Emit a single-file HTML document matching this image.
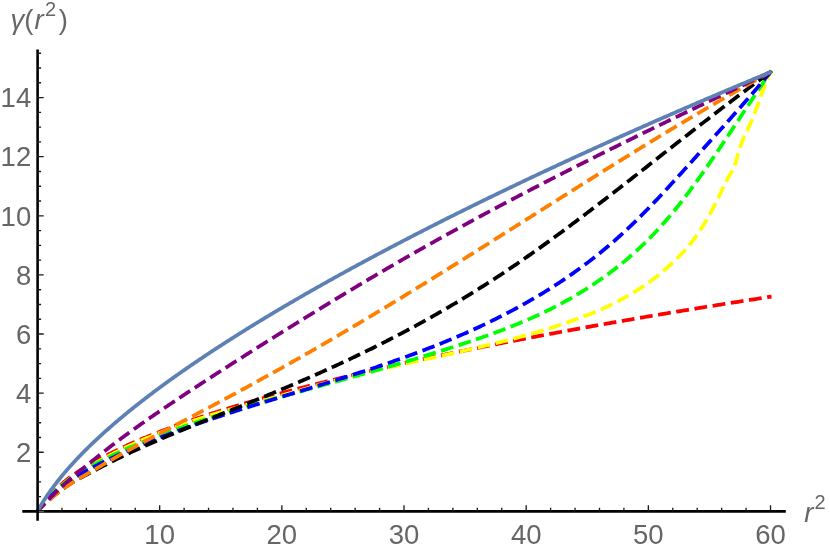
<!DOCTYPE html>
<html><head><meta charset="utf-8"><title>plot</title>
<style>html,body{margin:0;padding:0;background:#fff}svg{display:block}text{font-family:"Liberation Sans",sans-serif;fill:#666}</style></head><body>
<svg width="830" height="552" viewBox="0 0 830 552">
<rect width="830" height="552" fill="#fff"/>
<g fill="none" stroke-width="3.75" stroke-linejoin="round">
<path d="M37.50 511.34 L38.46 509.94 L39.42 508.58 L40.38 507.26 L41.34 505.97 L42.31 504.71 L43.27 503.49 L44.24 502.28 L45.21 501.11 L46.19 499.95 L47.16 498.82 L48.14 497.71 L49.12 496.62 L50.10 495.55 L51.09 494.49 L52.07 493.45 L53.06 492.42 L54.05 491.41 L55.04 490.41 L56.04 489.43 L57.03 488.46 L58.03 487.50 L59.03 486.55 L60.04 485.62 L61.04 484.70 L62.05 483.80 L63.06 482.91 L64.07 482.03 L65.08 481.17 L66.09 480.32 L67.11 479.49 L68.13 478.68 L69.15 477.88 L70.18 477.10 L71.20 476.34 L72.23 475.59 L73.26 474.86 L74.29 474.14 L75.32 473.44 L76.36 472.75 L77.40 472.07 L78.43 471.40 L79.48 470.75 L80.52 470.10 L81.57 469.46 L82.61 468.83 L83.66 468.20 L84.72 467.58 L85.77 466.96 L86.83 466.34 L87.88 465.73 L88.95 465.12 L90.01 464.51 L91.07 463.91 L92.14 463.30 L93.21 462.70 L94.28 462.10 L95.35 461.50 L96.43 460.90 L97.50 460.30 L98.58 459.71 L99.66 459.12 L100.74 458.53 L101.83 457.95 L102.92 457.36 L104.01 456.78 L105.10 456.21 L106.19 455.63 L107.29 455.06 L108.38 454.50 L109.48 453.93 L110.58 453.37 L111.69 452.81 L112.79 452.26 L113.90 451.71 L115.01 451.16 L116.12 450.61 L117.24 450.07 L118.35 449.53 L119.47 449.00 L120.59 448.46 L121.71 447.93 L122.84 447.40 L123.96 446.88 L125.09 446.36 L126.22 445.84 L127.36 445.32 L128.49 444.81 L129.63 444.29 L130.77 443.78 L131.91 443.28 L133.05 442.77 L134.19 442.27 L135.34 441.77 L136.49 441.27 L137.64 440.77 L138.79 440.28 L139.95 439.79 L141.11 439.30 L142.27 438.81 L143.43 438.32 L144.59 437.84 L145.76 437.36 L146.92 436.88 L148.09 436.40 L149.27 435.92 L150.44 435.45 L151.62 434.98 L152.79 434.51 L153.97 434.04 L155.16 433.57 L156.34 433.10 L157.53 432.64 L158.71 432.18 L159.90 431.72 L161.10 431.26 L162.29 430.80 L163.49 430.34 L164.69 429.89 L165.89 429.44 L167.09 428.98 L168.29 428.53 L169.50 428.09 L170.71 427.64 L171.92 427.19 L173.13 426.75 L174.35 426.30 L175.57 425.86 L176.79 425.42 L178.01 424.98 L179.23 424.54 L180.46 424.11 L181.68 423.67 L182.91 423.24 L184.14 422.81 L185.38 422.37 L186.61 421.94 L187.85 421.51 L189.09 421.08 L190.33 420.66 L191.58 420.23 L192.82 419.81 L194.07 419.38 L195.32 418.96 L196.57 418.54 L197.83 418.12 L199.08 417.70 L200.34 417.28 L201.60 416.86 L202.87 416.44 L204.13 416.03 L205.40 415.61 L206.67 415.20 L207.94 414.79 L209.21 414.37 L210.48 413.96 L211.76 413.55 L213.04 413.14 L214.32 412.73 L215.60 412.33 L216.89 411.92 L218.18 411.51 L219.47 411.11 L220.76 410.71 L222.05 410.30 L223.35 409.90 L224.64 409.50 L225.94 409.10 L227.25 408.70 L228.55 408.30 L229.86 407.90 L231.16 407.50 L232.47 407.10 L233.79 406.71 L235.10 406.31 L236.42 405.92 L237.73 405.52 L239.05 405.13 L240.38 404.74 L241.70 404.35 L243.03 403.96 L244.36 403.56 L245.69 403.17 L247.02 402.79 L248.35 402.40 L249.69 402.01 L251.03 401.62 L252.37 401.24 L253.71 400.85 L255.06 400.46 L256.41 400.08 L257.75 399.70 L259.11 399.31 L260.46 398.93 L261.81 398.55 L263.17 398.17 L264.53 397.78 L265.89 397.40 L267.26 397.02 L268.62 396.64 L269.99 396.27 L271.36 395.89 L272.73 395.51 L274.11 395.13 L275.48 394.76 L276.86 394.38 L278.24 394.00 L279.62 393.63 L281.01 393.25 L282.39 392.88 L283.78 392.51 L285.17 392.13 L286.56 391.76 L287.96 391.39 L289.36 391.02 L290.75 390.65 L292.16 390.28 L293.56 389.91 L294.96 389.54 L296.37 389.17 L297.78 388.80 L299.19 388.43 L300.60 388.06 L302.02 387.70 L303.44 387.33 L304.86 386.96 L306.28 386.60 L307.70 386.23 L309.13 385.87 L310.55 385.50 L311.98 385.14 L313.41 384.77 L314.85 384.41 L316.28 384.05 L317.72 383.69 L319.16 383.32 L320.60 382.96 L322.05 382.60 L323.49 382.24 L324.94 381.88 L326.39 381.52 L327.85 381.16 L329.30 380.80 L330.76 380.44 L332.21 380.08 L333.68 379.72 L335.14 379.37 L336.60 379.01 L338.07 378.65 L339.54 378.30 L341.01 377.94 L342.48 377.58 L343.96 377.23 L345.43 376.87 L346.91 376.52 L348.40 376.16 L349.88 375.81 L351.36 375.45 L352.85 375.10 L354.34 374.75 L355.83 374.39 L357.33 374.04 L358.82 373.69 L360.32 373.34 L361.82 372.99 L363.32 372.64 L364.83 372.28 L366.33 371.93 L367.84 371.58 L369.35 371.23 L370.86 370.88 L372.38 370.53 L373.89 370.19 L375.41 369.84 L376.93 369.49 L378.45 369.14 L379.98 368.79 L381.50 368.44 L383.03 368.10 L384.56 367.75 L386.10 367.40 L387.63 367.06 L389.17 366.71 L390.71 366.37 L392.25 366.02 L393.79 365.67 L395.34 365.33 L396.88 364.98 L398.43 364.64 L399.99 364.30 L401.54 363.95 L403.09 363.61 L404.65 363.26 L406.21 362.92 L407.77 362.58 L409.34 362.24 L410.90 361.89 L412.47 361.55 L414.04 361.21 L415.61 360.87 L417.19 360.53 L418.76 360.19 L420.34 359.85 L421.92 359.51 L423.50 359.16 L425.09 358.82 L426.68 358.49 L428.26 358.15 L429.85 357.81 L431.45 357.47 L433.04 357.13 L434.64 356.79 L436.24 356.45 L437.84 356.11 L439.44 355.78 L441.05 355.44 L442.65 355.10 L444.26 354.76 L445.87 354.43 L447.49 354.09 L449.10 353.75 L450.72 353.42 L452.34 353.08 L453.96 352.75 L455.58 352.41 L457.21 352.07 L458.84 351.74 L460.47 351.40 L462.10 351.07 L463.73 350.74 L465.37 350.40 L467.01 350.07 L468.65 349.73 L470.29 349.40 L471.93 349.07 L473.58 348.73 L475.23 348.40 L476.88 348.07 L478.53 347.74 L480.19 347.40 L481.84 347.07 L483.50 346.74 L485.16 346.41 L486.83 346.08 L488.49 345.75 L490.16 345.41 L491.83 345.08 L493.50 344.75 L495.17 344.42 L496.85 344.09 L498.52 343.76 L500.20 343.43 L501.88 343.10 L503.57 342.77 L505.25 342.44 L506.94 342.11 L508.63 341.79 L510.32 341.46 L512.02 341.13 L513.71 340.80 L515.41 340.47 L517.11 340.14 L518.81 339.82 L520.52 339.49 L522.22 339.16 L523.93 338.84 L525.64 338.51 L527.35 338.18 L529.07 337.85 L530.78 337.53 L532.50 337.20 L534.22 336.88 L535.95 336.55 L537.67 336.23 L539.40 335.90 L541.13 335.57 L542.86 335.25 L544.59 334.92 L546.33 334.60 L548.06 334.28 L549.80 333.95 L551.54 333.63 L553.29 333.30 L555.03 332.98 L556.78 332.66 L558.53 332.33 L560.28 332.01 L562.03 331.69 L563.79 331.36 L565.55 331.04 L567.31 330.72 L569.07 330.40 L570.83 330.07 L572.60 329.75 L574.37 329.43 L576.14 329.11 L577.91 328.79 L579.68 328.47 L581.46 328.14 L583.24 327.82 L585.02 327.50 L586.80 327.18 L588.59 326.86 L590.37 326.54 L592.16 326.22 L593.95 325.90 L595.74 325.58 L597.54 325.26 L599.34 324.94 L601.14 324.62 L602.94 324.31 L604.74 323.99 L606.54 323.67 L608.35 323.35 L610.16 323.03 L611.97 322.71 L613.79 322.40 L615.60 322.08 L617.42 321.76 L619.24 321.44 L621.06 321.13 L622.88 320.81 L624.71 320.49 L626.54 320.17 L628.37 319.86 L630.20 319.54 L632.03 319.23 L633.87 318.91 L635.71 318.59 L637.55 318.28 L639.39 317.96 L641.24 317.65 L643.08 317.33 L644.93 317.02 L646.78 316.70 L648.63 316.39 L650.49 316.07 L652.35 315.76 L654.20 315.44 L656.07 315.13 L657.93 314.82 L659.79 314.50 L661.66 314.19 L663.53 313.88 L665.40 313.56 L667.27 313.25 L669.15 312.94 L671.03 312.62 L672.91 312.31 L674.79 312.00 L676.67 311.69 L678.56 311.37 L680.45 311.06 L682.34 310.75 L684.23 310.44 L686.12 310.13 L688.02 309.82 L689.92 309.51 L691.82 309.19 L693.72 308.88 L695.62 308.57 L697.53 308.26 L699.44 307.95 L701.35 307.64 L703.26 307.33 L705.17 307.02 L707.09 306.71 L709.01 306.40 L710.93 306.10 L712.85 305.79 L714.78 305.48 L716.70 305.17 L718.63 304.86 L720.56 304.55 L722.50 304.24 L724.43 303.94 L726.37 303.63 L728.31 303.32 L730.25 303.01 L732.19 302.71 L734.14 302.40 L736.09 302.09 L738.04 301.79 L739.99 301.48 L741.94 301.17 L743.90 300.87 L745.86 300.56 L747.82 300.25 L749.78 299.95 L751.74 299.64 L753.71 299.34 L755.68 299.03 L757.65 298.73 L759.62 298.42 L761.59 298.12 L763.57 297.81 L765.55 297.51 L767.53 297.20 L769.51 296.90 L771.50 296.60" stroke="#ff0000" stroke-dasharray="12.83 5.58" stroke-dashoffset="2.00"/>
<path d="M37.50 511.34 L38.46 510.01 L39.42 508.72 L40.38 507.47 L41.34 506.25 L42.31 505.05 L43.27 503.89 L44.24 502.75 L45.21 501.63 L46.19 500.53 L47.16 499.46 L48.14 498.40 L49.12 497.36 L50.10 496.34 L51.09 495.33 L52.07 494.34 L53.06 493.36 L54.05 492.40 L55.04 491.44 L56.04 490.50 L57.03 489.57 L58.03 488.65 L59.03 487.74 L60.04 486.84 L61.04 485.96 L62.05 485.09 L63.06 484.23 L64.07 483.38 L65.08 482.55 L66.09 481.73 L67.11 480.93 L68.13 480.14 L69.15 479.37 L70.18 478.61 L71.20 477.87 L72.23 477.14 L73.26 476.43 L74.29 475.73 L75.32 475.04 L76.36 474.36 L77.40 473.70 L78.43 473.05 L79.48 472.40 L80.52 471.77 L81.57 471.14 L82.61 470.51 L83.66 469.89 L84.72 469.28 L85.77 468.66 L86.83 468.05 L87.88 467.45 L88.95 466.84 L90.01 466.23 L91.07 465.63 L92.14 465.02 L93.21 464.42 L94.28 463.81 L95.35 463.21 L96.43 462.61 L97.50 462.01 L98.58 461.41 L99.66 460.82 L100.74 460.22 L101.83 459.63 L102.92 459.04 L104.01 458.45 L105.10 457.87 L106.19 457.28 L107.29 456.70 L108.38 456.13 L109.48 455.55 L110.58 454.98 L111.69 454.41 L112.79 453.84 L113.90 453.28 L115.01 452.72 L116.12 452.16 L117.24 451.61 L118.35 451.06 L119.47 450.51 L120.59 449.96 L121.71 449.42 L122.84 448.88 L123.96 448.34 L125.09 447.80 L126.22 447.27 L127.36 446.74 L128.49 446.21 L129.63 445.69 L130.77 445.16 L131.91 444.64 L133.05 444.13 L134.19 443.61 L135.34 443.10 L136.49 442.59 L137.64 442.08 L138.79 441.58 L139.95 441.07 L141.11 440.57 L142.27 440.07 L143.43 439.58 L144.59 439.08 L145.76 438.59 L146.92 438.10 L148.09 437.62 L149.27 437.13 L150.44 436.65 L151.62 436.17 L152.79 435.69 L153.97 435.21 L155.16 434.74 L156.34 434.26 L157.53 433.79 L158.71 433.32 L159.90 432.86 L161.10 432.39 L162.29 431.93 L163.49 431.47 L164.69 431.01 L165.89 430.55 L167.09 430.10 L168.29 429.64 L169.50 429.19 L170.71 428.74 L171.92 428.30 L173.13 427.85 L174.35 427.41 L175.57 426.96 L176.79 426.52 L178.01 426.08 L179.23 425.65 L180.46 425.21 L181.68 424.78 L182.91 424.35 L184.14 423.92 L185.38 423.49 L186.61 423.06 L187.85 422.64 L189.09 422.22 L190.33 421.80 L191.58 421.38 L192.82 420.96 L194.07 420.54 L195.32 420.13 L196.57 419.72 L197.83 419.31 L199.08 418.90 L200.34 418.49 L201.60 418.09 L202.87 417.68 L204.13 417.28 L205.40 416.88 L206.67 416.48 L207.94 416.09 L209.21 415.69 L210.48 415.30 L211.76 414.91 L213.04 414.52 L214.32 414.13 L215.60 413.74 L216.89 413.36 L218.18 412.98 L219.47 412.60 L220.76 412.22 L222.05 411.84 L223.35 411.46 L224.64 411.09 L225.94 410.71 L227.25 410.34 L228.55 409.97 L229.86 409.60 L231.16 409.23 L232.47 408.87 L233.79 408.50 L235.10 408.14 L236.42 407.77 L237.73 407.41 L239.05 407.05 L240.38 406.68 L241.70 406.32 L243.03 405.96 L244.36 405.60 L245.69 405.24 L247.02 404.88 L248.35 404.52 L249.69 404.16 L251.03 403.80 L252.37 403.44 L253.71 403.08 L255.06 402.72 L256.41 402.36 L257.75 402.00 L259.11 401.64 L260.46 401.27 L261.81 400.91 L263.17 400.55 L264.53 400.18 L265.89 399.82 L267.26 399.45 L268.62 399.09 L269.99 398.72 L271.36 398.35 L272.73 397.98 L274.11 397.61 L275.48 397.23 L276.86 396.86 L278.24 396.48 L279.62 396.10 L281.01 395.72 L282.39 395.34 L283.78 394.96 L285.17 394.57 L286.56 394.18 L287.96 393.79 L289.36 393.40 L290.75 393.01 L292.16 392.61 L293.56 392.21 L294.96 391.81 L296.37 391.41 L297.78 391.00 L299.19 390.60 L300.60 390.19 L302.02 389.78 L303.44 389.38 L304.86 388.97 L306.28 388.56 L307.70 388.15 L309.13 387.74 L310.55 387.33 L311.98 386.92 L313.41 386.51 L314.85 386.10 L316.28 385.69 L317.72 385.29 L319.16 384.88 L320.60 384.48 L322.05 384.07 L323.49 383.67 L324.94 383.27 L326.39 382.87 L327.85 382.48 L329.30 382.08 L330.76 381.69 L332.21 381.30 L333.68 380.91 L335.14 380.52 L336.60 380.13 L338.07 379.75 L339.54 379.36 L341.01 378.98 L342.48 378.60 L343.96 378.22 L345.43 377.84 L346.91 377.47 L348.40 377.09 L349.88 376.72 L351.36 376.34 L352.85 375.97 L354.34 375.60 L355.83 375.23 L357.33 374.87 L358.82 374.50 L360.32 374.13 L361.82 373.77 L363.32 373.41 L364.83 373.05 L366.33 372.68 L367.84 372.32 L369.35 371.96 L370.86 371.61 L372.38 371.25 L373.89 370.89 L375.41 370.54 L376.93 370.18 L378.45 369.83 L379.98 369.47 L381.50 369.12 L383.03 368.77 L384.56 368.41 L386.10 368.06 L387.63 367.71 L389.17 367.36 L390.71 367.01 L392.25 366.66 L393.79 366.31 L395.34 365.96 L396.88 365.62 L398.43 365.27 L399.99 364.92 L401.54 364.57 L403.09 364.23 L404.65 363.88 L406.21 363.53 L407.77 363.18 L409.34 362.84 L410.90 362.49 L412.47 362.14 L414.04 361.80 L415.61 361.45 L417.19 361.10 L418.76 360.75 L420.34 360.40 L421.92 360.06 L423.50 359.71 L425.09 359.36 L426.68 359.01 L428.26 358.66 L429.85 358.31 L431.45 357.96 L433.04 357.61 L434.64 357.25 L436.24 356.90 L437.84 356.55 L439.44 356.19 L441.05 355.84 L442.65 355.48 L444.26 355.13 L445.87 354.77 L447.49 354.41 L449.10 354.05 L450.72 353.69 L452.34 353.33 L453.96 352.97 L455.58 352.60 L457.21 352.24 L458.84 351.87 L460.47 351.50 L462.10 351.13 L463.73 350.76 L465.37 350.39 L467.01 350.02 L468.65 349.64 L470.29 349.27 L471.93 348.89 L473.58 348.51 L475.23 348.12 L476.88 347.74 L478.53 347.35 L480.19 346.96 L481.84 346.57 L483.50 346.18 L485.16 345.79 L486.83 345.39 L488.49 344.99 L490.16 344.59 L491.83 344.18 L493.50 343.77 L495.17 343.36 L496.85 342.95 L498.52 342.53 L500.20 342.11 L501.88 341.69 L503.57 341.26 L505.25 340.84 L506.94 340.40 L508.63 339.97 L510.32 339.53 L512.02 339.08 L513.71 338.64 L515.41 338.19 L517.11 337.73 L518.81 337.28 L520.52 336.81 L522.22 336.35 L523.93 335.88 L525.64 335.40 L527.35 334.92 L529.07 334.44 L530.78 333.95 L532.50 333.46 L534.22 332.96 L535.95 332.46 L537.67 331.95 L539.40 331.44 L541.13 330.92 L542.86 330.40 L544.59 329.87 L546.33 329.34 L548.06 328.80 L549.80 328.26 L551.54 327.71 L553.29 327.15 L555.03 326.59 L556.78 326.02 L558.53 325.45 L560.28 324.87 L562.03 324.29 L563.79 323.69 L565.55 323.10 L567.31 322.49 L569.07 321.88 L570.83 321.26 L572.60 320.64 L574.37 320.00 L576.14 319.36 L577.91 318.72 L579.68 318.06 L581.46 317.40 L583.24 316.73 L585.02 316.05 L586.80 315.35 L588.59 314.65 L590.37 313.94 L592.16 313.22 L593.95 312.48 L595.74 311.73 L597.54 310.97 L599.34 310.20 L601.14 309.41 L602.94 308.61 L604.74 307.79 L606.54 306.96 L608.35 306.12 L610.16 305.26 L611.97 304.38 L613.79 303.48 L615.60 302.57 L617.42 301.63 L619.24 300.68 L621.06 299.71 L622.88 298.73 L624.71 297.72 L626.54 296.69 L628.37 295.63 L630.20 294.56 L632.03 293.47 L633.87 292.35 L635.71 291.21 L637.55 290.04 L639.39 288.85 L641.24 287.64 L643.08 286.40 L644.93 285.13 L646.78 283.84 L648.63 282.51 L650.49 281.16 L652.35 279.79 L654.20 278.38 L656.07 276.94 L657.93 275.47 L659.79 273.97 L661.66 272.43 L663.53 270.86 L665.40 269.26 L667.27 267.63 L669.15 265.95 L671.03 264.24 L672.91 262.48 L674.79 260.69 L676.67 258.84 L678.56 256.94 L680.45 255.00 L682.34 253.00 L684.23 250.94 L686.12 248.81 L688.02 246.61 L689.92 244.33 L691.82 241.97 L693.72 239.51 L695.62 236.95 L697.53 234.28 L699.44 231.49 L701.35 228.58 L703.26 225.54 L705.17 222.37 L707.09 219.05 L709.01 215.62 L710.93 212.08 L712.85 208.43 L714.78 204.69 L716.70 200.87 L718.63 196.98 L720.56 193.03 L722.50 189.04 L724.43 185.05 L726.37 181.17 L728.31 177.50 L730.25 174.15 L732.19 170.99 L734.14 166.98 L736.09 160.97 L738.04 153.70 L739.99 147.29 L741.94 141.91 L743.90 137.28 L745.86 133.10 L747.82 129.08 L749.78 124.93 L751.74 120.40 L753.71 115.53 L755.68 110.39 L757.65 105.08 L759.62 99.67 L761.59 94.26 L763.57 88.92 L765.55 83.75 L767.53 78.83 L769.51 74.25 L771.50 70.10" stroke="#ffff00" stroke-dasharray="12.83 5.58" stroke-dashoffset="2.00"/>
<path d="M37.50 511.34 L38.46 510.00 L39.42 508.70 L40.38 507.44 L41.34 506.21 L42.31 505.01 L43.27 503.84 L44.24 502.69 L45.21 501.57 L46.19 500.47 L47.16 499.40 L48.14 498.34 L49.12 497.30 L50.10 496.28 L51.09 495.28 L52.07 494.29 L53.06 493.31 L54.05 492.35 L55.04 491.41 L56.04 490.47 L57.03 489.55 L58.03 488.64 L59.03 487.74 L60.04 486.86 L61.04 485.99 L62.05 485.13 L63.06 484.28 L64.07 483.45 L65.08 482.64 L66.09 481.84 L67.11 481.05 L68.13 480.28 L69.15 479.53 L70.18 478.79 L71.20 478.07 L72.23 477.36 L73.26 476.67 L74.29 476.00 L75.32 475.33 L76.36 474.68 L77.40 474.05 L78.43 473.42 L79.48 472.80 L80.52 472.19 L81.57 471.59 L82.61 470.99 L83.66 470.40 L84.72 469.81 L85.77 469.23 L86.83 468.65 L87.88 468.07 L88.95 467.50 L90.01 466.92 L91.07 466.35 L92.14 465.78 L93.21 465.20 L94.28 464.63 L95.35 464.06 L96.43 463.50 L97.50 462.93 L98.58 462.37 L99.66 461.80 L100.74 461.24 L101.83 460.69 L102.92 460.13 L104.01 459.58 L105.10 459.03 L106.19 458.48 L107.29 457.94 L108.38 457.39 L109.48 456.85 L110.58 456.32 L111.69 455.78 L112.79 455.25 L113.90 454.72 L115.01 454.20 L116.12 453.68 L117.24 453.15 L118.35 452.64 L119.47 452.12 L120.59 451.61 L121.71 451.10 L122.84 450.59 L123.96 450.08 L125.09 449.58 L126.22 449.08 L127.36 448.58 L128.49 448.08 L129.63 447.59 L130.77 447.09 L131.91 446.60 L133.05 446.11 L134.19 445.63 L135.34 445.14 L136.49 444.66 L137.64 444.17 L138.79 443.69 L139.95 443.22 L141.11 442.74 L142.27 442.27 L143.43 441.79 L144.59 441.32 L145.76 440.85 L146.92 440.38 L148.09 439.92 L149.27 439.45 L150.44 438.99 L151.62 438.52 L152.79 438.06 L153.97 437.60 L155.16 437.15 L156.34 436.69 L157.53 436.23 L158.71 435.78 L159.90 435.33 L161.10 434.88 L162.29 434.43 L163.49 433.98 L164.69 433.53 L165.89 433.09 L167.09 432.64 L168.29 432.20 L169.50 431.76 L170.71 431.31 L171.92 430.87 L173.13 430.44 L174.35 430.00 L175.57 429.56 L176.79 429.13 L178.01 428.69 L179.23 428.26 L180.46 427.83 L181.68 427.39 L182.91 426.96 L184.14 426.54 L185.38 426.11 L186.61 425.68 L187.85 425.26 L189.09 424.83 L190.33 424.41 L191.58 423.98 L192.82 423.56 L194.07 423.14 L195.32 422.72 L196.57 422.30 L197.83 421.89 L199.08 421.47 L200.34 421.05 L201.60 420.64 L202.87 420.22 L204.13 419.81 L205.40 419.40 L206.67 418.99 L207.94 418.58 L209.21 418.17 L210.48 417.76 L211.76 417.35 L213.04 416.95 L214.32 416.54 L215.60 416.13 L216.89 415.73 L218.18 415.33 L219.47 414.92 L220.76 414.52 L222.05 414.12 L223.35 413.72 L224.64 413.32 L225.94 412.92 L227.25 412.52 L228.55 412.12 L229.86 411.72 L231.16 411.32 L232.47 410.93 L233.79 410.53 L235.10 410.13 L236.42 409.74 L237.73 409.34 L239.05 408.95 L240.38 408.55 L241.70 408.16 L243.03 407.77 L244.36 407.37 L245.69 406.98 L247.02 406.59 L248.35 406.20 L249.69 405.80 L251.03 405.41 L252.37 405.02 L253.71 404.63 L255.06 404.24 L256.41 403.85 L257.75 403.46 L259.11 403.07 L260.46 402.68 L261.81 402.29 L263.17 401.90 L264.53 401.51 L265.89 401.12 L267.26 400.73 L268.62 400.34 L269.99 399.95 L271.36 399.57 L272.73 399.18 L274.11 398.79 L275.48 398.40 L276.86 398.01 L278.24 397.62 L279.62 397.23 L281.01 396.84 L282.39 396.45 L283.78 396.06 L285.17 395.67 L286.56 395.28 L287.96 394.89 L289.36 394.50 L290.75 394.11 L292.16 393.72 L293.56 393.33 L294.96 392.94 L296.37 392.55 L297.78 392.16 L299.19 391.77 L300.60 391.37 L302.02 390.98 L303.44 390.59 L304.86 390.19 L306.28 389.80 L307.70 389.41 L309.13 389.01 L310.55 388.62 L311.98 388.22 L313.41 387.83 L314.85 387.43 L316.28 387.03 L317.72 386.63 L319.16 386.24 L320.60 385.84 L322.05 385.44 L323.49 385.04 L324.94 384.64 L326.39 384.24 L327.85 383.84 L329.30 383.43 L330.76 383.03 L332.21 382.63 L333.68 382.22 L335.14 381.82 L336.60 381.41 L338.07 381.00 L339.54 380.60 L341.01 380.19 L342.48 379.78 L343.96 379.37 L345.43 378.96 L346.91 378.55 L348.40 378.13 L349.88 377.72 L351.36 377.30 L352.85 376.89 L354.34 376.47 L355.83 376.05 L357.33 375.63 L358.82 375.21 L360.32 374.79 L361.82 374.37 L363.32 373.95 L364.83 373.52 L366.33 373.10 L367.84 372.67 L369.35 372.24 L370.86 371.81 L372.38 371.38 L373.89 370.95 L375.41 370.52 L376.93 370.09 L378.45 369.65 L379.98 369.21 L381.50 368.77 L383.03 368.33 L384.56 367.89 L386.10 367.45 L387.63 367.01 L389.17 366.56 L390.71 366.12 L392.25 365.67 L393.79 365.22 L395.34 364.77 L396.88 364.31 L398.43 363.86 L399.99 363.40 L401.54 362.94 L403.09 362.48 L404.65 362.02 L406.21 361.56 L407.77 361.09 L409.34 360.63 L410.90 360.16 L412.47 359.69 L414.04 359.22 L415.61 358.74 L417.19 358.27 L418.76 357.79 L420.34 357.31 L421.92 356.83 L423.50 356.35 L425.09 355.86 L426.68 355.37 L428.26 354.89 L429.85 354.39 L431.45 353.90 L433.04 353.41 L434.64 352.91 L436.24 352.41 L437.84 351.91 L439.44 351.40 L441.05 350.89 L442.65 350.39 L444.26 349.87 L445.87 349.36 L447.49 348.85 L449.10 348.33 L450.72 347.81 L452.34 347.28 L453.96 346.76 L455.58 346.23 L457.21 345.70 L458.84 345.17 L460.47 344.63 L462.10 344.10 L463.73 343.56 L465.37 343.01 L467.01 342.47 L468.65 341.92 L470.29 341.37 L471.93 340.81 L473.58 340.26 L475.23 339.70 L476.88 339.13 L478.53 338.57 L480.19 337.99 L481.84 337.42 L483.50 336.84 L485.16 336.26 L486.83 335.67 L488.49 335.08 L490.16 334.48 L491.83 333.88 L493.50 333.27 L495.17 332.66 L496.85 332.05 L498.52 331.42 L500.20 330.80 L501.88 330.16 L503.57 329.53 L505.25 328.88 L506.94 328.23 L508.63 327.57 L510.32 326.91 L512.02 326.24 L513.71 325.56 L515.41 324.88 L517.11 324.19 L518.81 323.49 L520.52 322.78 L522.22 322.07 L523.93 321.35 L525.64 320.62 L527.35 319.88 L529.07 319.13 L530.78 318.38 L532.50 317.62 L534.22 316.84 L535.95 316.06 L537.67 315.27 L539.40 314.47 L541.13 313.66 L542.86 312.84 L544.59 312.02 L546.33 311.18 L548.06 310.33 L549.80 309.47 L551.54 308.60 L553.29 307.72 L555.03 306.82 L556.78 305.92 L558.53 305.00 L560.28 304.08 L562.03 303.14 L563.79 302.19 L565.55 301.22 L567.31 300.25 L569.07 299.26 L570.83 298.26 L572.60 297.24 L574.37 296.22 L576.14 295.17 L577.91 294.12 L579.68 293.05 L581.46 291.97 L583.24 290.87 L585.02 289.76 L586.80 288.63 L588.59 287.49 L590.37 286.34 L592.16 285.17 L593.95 283.98 L595.74 282.78 L597.54 281.56 L599.34 280.32 L601.14 279.07 L602.94 277.80 L604.74 276.52 L606.54 275.21 L608.35 273.89 L610.16 272.55 L611.97 271.19 L613.79 269.81 L615.60 268.41 L617.42 266.99 L619.24 265.55 L621.06 264.09 L622.88 262.60 L624.71 261.10 L626.54 259.56 L628.37 258.01 L630.20 256.43 L632.03 254.83 L633.87 253.20 L635.71 251.55 L637.55 249.87 L639.39 248.17 L641.24 246.44 L643.08 244.68 L644.93 242.89 L646.78 241.07 L648.63 239.23 L650.49 237.35 L652.35 235.45 L654.20 233.51 L656.07 231.55 L657.93 229.55 L659.79 227.52 L661.66 225.46 L663.53 223.36 L665.40 221.23 L667.27 219.07 L669.15 216.87 L671.03 214.63 L672.91 212.36 L674.79 210.06 L676.67 207.73 L678.56 205.36 L680.45 202.97 L682.34 200.54 L684.23 198.08 L686.12 195.60 L688.02 193.09 L689.92 190.55 L691.82 187.98 L693.72 185.39 L695.62 182.77 L697.53 180.13 L699.44 177.47 L701.35 174.78 L703.26 172.08 L705.17 169.35 L707.09 166.60 L709.01 163.84 L710.93 161.05 L712.85 158.25 L714.78 155.43 L716.70 152.60 L718.63 149.75 L720.56 146.89 L722.50 144.02 L724.43 141.13 L726.37 138.23 L728.31 135.32 L730.25 132.41 L732.19 129.48 L734.14 126.55 L736.09 123.61 L738.04 120.66 L739.99 117.71 L741.94 114.76 L743.90 111.80 L745.86 108.84 L747.82 105.88 L749.78 102.93 L751.74 99.97 L753.71 97.01 L755.68 94.06 L757.65 91.11 L759.62 88.17 L761.59 85.23 L763.57 82.30 L765.55 79.37 L767.53 76.46 L769.51 73.56 L771.50 70.66" stroke="#00ff00" stroke-dasharray="12.83 5.58" stroke-dashoffset="2.00"/>
<path d="M37.50 511.34 L38.46 510.06 L39.42 508.81 L40.38 507.60 L41.34 506.42 L42.31 505.27 L43.27 504.15 L44.24 503.05 L45.21 501.98 L46.19 500.93 L47.16 499.90 L48.14 498.90 L49.12 497.91 L50.10 496.93 L51.09 495.97 L52.07 495.03 L53.06 494.10 L54.05 493.18 L55.04 492.28 L56.04 491.39 L57.03 490.51 L58.03 489.64 L59.03 488.79 L60.04 487.94 L61.04 487.11 L62.05 486.29 L63.06 485.49 L64.07 484.70 L65.08 483.92 L66.09 483.15 L67.11 482.40 L68.13 481.67 L69.15 480.95 L70.18 480.25 L71.20 479.56 L72.23 478.89 L73.26 478.23 L74.29 477.59 L75.32 476.96 L76.36 476.34 L77.40 475.73 L78.43 475.13 L79.48 474.55 L80.52 473.96 L81.57 473.39 L82.61 472.82 L83.66 472.26 L84.72 471.70 L85.77 471.14 L86.83 470.59 L87.88 470.03 L88.95 469.48 L90.01 468.93 L91.07 468.38 L92.14 467.83 L93.21 467.28 L94.28 466.73 L95.35 466.18 L96.43 465.63 L97.50 465.09 L98.58 464.54 L99.66 464.00 L100.74 463.46 L101.83 462.92 L102.92 462.38 L104.01 461.84 L105.10 461.30 L106.19 460.77 L107.29 460.24 L108.38 459.71 L109.48 459.19 L110.58 458.66 L111.69 458.14 L112.79 457.62 L113.90 457.10 L115.01 456.59 L116.12 456.07 L117.24 455.56 L118.35 455.05 L119.47 454.55 L120.59 454.04 L121.71 453.54 L122.84 453.03 L123.96 452.53 L125.09 452.04 L126.22 451.54 L127.36 451.04 L128.49 450.55 L129.63 450.06 L130.77 449.57 L131.91 449.08 L133.05 448.59 L134.19 448.10 L135.34 447.62 L136.49 447.14 L137.64 446.65 L138.79 446.17 L139.95 445.69 L141.11 445.21 L142.27 444.74 L143.43 444.26 L144.59 443.78 L145.76 443.31 L146.92 442.84 L148.09 442.37 L149.27 441.89 L150.44 441.42 L151.62 440.96 L152.79 440.49 L153.97 440.02 L155.16 439.55 L156.34 439.09 L157.53 438.62 L158.71 438.16 L159.90 437.70 L161.10 437.24 L162.29 436.78 L163.49 436.32 L164.69 435.86 L165.89 435.40 L167.09 434.94 L168.29 434.48 L169.50 434.03 L170.71 433.57 L171.92 433.12 L173.13 432.66 L174.35 432.21 L175.57 431.76 L176.79 431.31 L178.01 430.86 L179.23 430.41 L180.46 429.96 L181.68 429.51 L182.91 429.06 L184.14 428.61 L185.38 428.17 L186.61 427.72 L187.85 427.27 L189.09 426.83 L190.33 426.38 L191.58 425.94 L192.82 425.50 L194.07 425.06 L195.32 424.61 L196.57 424.17 L197.83 423.73 L199.08 423.29 L200.34 422.85 L201.60 422.42 L202.87 421.98 L204.13 421.54 L205.40 421.11 L206.67 420.67 L207.94 420.23 L209.21 419.80 L210.48 419.37 L211.76 418.93 L213.04 418.50 L214.32 418.07 L215.60 417.64 L216.89 417.21 L218.18 416.78 L219.47 416.35 L220.76 415.92 L222.05 415.50 L223.35 415.07 L224.64 414.64 L225.94 414.22 L227.25 413.79 L228.55 413.37 L229.86 412.94 L231.16 412.52 L232.47 412.10 L233.79 411.67 L235.10 411.25 L236.42 410.83 L237.73 410.41 L239.05 409.99 L240.38 409.57 L241.70 409.15 L243.03 408.73 L244.36 408.31 L245.69 407.89 L247.02 407.47 L248.35 407.05 L249.69 406.63 L251.03 406.21 L252.37 405.79 L253.71 405.38 L255.06 404.96 L256.41 404.54 L257.75 404.12 L259.11 403.70 L260.46 403.28 L261.81 402.86 L263.17 402.45 L264.53 402.03 L265.89 401.61 L267.26 401.19 L268.62 400.77 L269.99 400.35 L271.36 399.93 L272.73 399.51 L274.11 399.09 L275.48 398.67 L276.86 398.25 L278.24 397.83 L279.62 397.41 L281.01 396.99 L282.39 396.56 L283.78 396.14 L285.17 395.72 L286.56 395.29 L287.96 394.87 L289.36 394.45 L290.75 394.02 L292.16 393.59 L293.56 393.17 L294.96 392.74 L296.37 392.31 L297.78 391.88 L299.19 391.45 L300.60 391.02 L302.02 390.59 L303.44 390.16 L304.86 389.73 L306.28 389.30 L307.70 388.86 L309.13 388.43 L310.55 387.99 L311.98 387.55 L313.41 387.11 L314.85 386.68 L316.28 386.24 L317.72 385.79 L319.16 385.35 L320.60 384.91 L322.05 384.46 L323.49 384.02 L324.94 383.57 L326.39 383.12 L327.85 382.67 L329.30 382.22 L330.76 381.77 L332.21 381.31 L333.68 380.86 L335.14 380.40 L336.60 379.94 L338.07 379.48 L339.54 379.02 L341.01 378.56 L342.48 378.10 L343.96 377.63 L345.43 377.16 L346.91 376.69 L348.40 376.22 L349.88 375.75 L351.36 375.28 L352.85 374.80 L354.34 374.32 L355.83 373.84 L357.33 373.36 L358.82 372.88 L360.32 372.39 L361.82 371.90 L363.32 371.41 L364.83 370.92 L366.33 370.43 L367.84 369.93 L369.35 369.43 L370.86 368.93 L372.38 368.43 L373.89 367.93 L375.41 367.42 L376.93 366.91 L378.45 366.40 L379.98 365.88 L381.50 365.37 L383.03 364.85 L384.56 364.33 L386.10 363.80 L387.63 363.27 L389.17 362.75 L390.71 362.21 L392.25 361.68 L393.79 361.14 L395.34 360.60 L396.88 360.06 L398.43 359.51 L399.99 358.96 L401.54 358.41 L403.09 357.85 L404.65 357.29 L406.21 356.73 L407.77 356.16 L409.34 355.60 L410.90 355.02 L412.47 354.45 L414.04 353.87 L415.61 353.29 L417.19 352.70 L418.76 352.11 L420.34 351.52 L421.92 350.92 L423.50 350.32 L425.09 349.71 L426.68 349.10 L428.26 348.49 L429.85 347.87 L431.45 347.25 L433.04 346.63 L434.64 346.00 L436.24 345.36 L437.84 344.73 L439.44 344.08 L441.05 343.44 L442.65 342.79 L444.26 342.13 L445.87 341.47 L447.49 340.80 L449.10 340.13 L450.72 339.46 L452.34 338.78 L453.96 338.10 L455.58 337.41 L457.21 336.71 L458.84 336.01 L460.47 335.31 L462.10 334.60 L463.73 333.88 L465.37 333.16 L467.01 332.44 L468.65 331.70 L470.29 330.97 L471.93 330.23 L473.58 329.48 L475.23 328.72 L476.88 327.96 L478.53 327.20 L480.19 326.43 L481.84 325.65 L483.50 324.87 L485.16 324.08 L486.83 323.28 L488.49 322.48 L490.16 321.67 L491.83 320.85 L493.50 320.03 L495.17 319.21 L496.85 318.37 L498.52 317.53 L500.20 316.68 L501.88 315.83 L503.57 314.97 L505.25 314.10 L506.94 313.22 L508.63 312.34 L510.32 311.45 L512.02 310.55 L513.71 309.65 L515.41 308.74 L517.11 307.82 L518.81 306.89 L520.52 305.95 L522.22 305.01 L523.93 304.06 L525.64 303.10 L527.35 302.14 L529.07 301.16 L530.78 300.18 L532.50 299.18 L534.22 298.18 L535.95 297.17 L537.67 296.15 L539.40 295.12 L541.13 294.09 L542.86 293.04 L544.59 291.98 L546.33 290.91 L548.06 289.83 L549.80 288.74 L551.54 287.65 L553.29 286.54 L555.03 285.42 L556.78 284.29 L558.53 283.14 L560.28 281.99 L562.03 280.82 L563.79 279.65 L565.55 278.46 L567.31 277.26 L569.07 276.05 L570.83 274.82 L572.60 273.59 L574.37 272.34 L576.14 271.08 L577.91 269.80 L579.68 268.51 L581.46 267.21 L583.24 265.90 L585.02 264.57 L586.80 263.23 L588.59 261.87 L590.37 260.50 L592.16 259.12 L593.95 257.72 L595.74 256.30 L597.54 254.88 L599.34 253.43 L601.14 251.97 L602.94 250.50 L604.74 249.01 L606.54 247.50 L608.35 245.98 L610.16 244.44 L611.97 242.89 L613.79 241.32 L615.60 239.73 L617.42 238.13 L619.24 236.50 L621.06 234.86 L622.88 233.21 L624.71 231.53 L626.54 229.84 L628.37 228.13 L630.20 226.40 L632.03 224.65 L633.87 222.89 L635.71 221.10 L637.55 219.30 L639.39 217.48 L641.24 215.64 L643.08 213.79 L644.93 211.92 L646.78 210.03 L648.63 208.13 L650.49 206.22 L652.35 204.29 L654.20 202.35 L656.07 200.39 L657.93 198.42 L659.79 196.44 L661.66 194.45 L663.53 192.45 L665.40 190.43 L667.27 188.41 L669.15 186.37 L671.03 184.33 L672.91 182.28 L674.79 180.22 L676.67 178.15 L678.56 176.08 L680.45 174.00 L682.34 171.91 L684.23 169.82 L686.12 167.73 L688.02 165.63 L689.92 163.52 L691.82 161.42 L693.72 159.31 L695.62 157.20 L697.53 155.09 L699.44 152.97 L701.35 150.86 L703.26 148.74 L705.17 146.62 L707.09 144.50 L709.01 142.38 L710.93 140.25 L712.85 138.12 L714.78 135.98 L716.70 133.84 L718.63 131.70 L720.56 129.55 L722.50 127.40 L724.43 125.24 L726.37 123.07 L728.31 120.90 L730.25 118.72 L732.19 116.54 L734.14 114.35 L736.09 112.15 L738.04 109.94 L739.99 107.73 L741.94 105.51 L743.90 103.27 L745.86 101.03 L747.82 98.78 L749.78 96.52 L751.74 94.25 L753.71 91.97 L755.68 89.68 L757.65 87.38 L759.62 85.06 L761.59 82.73 L763.57 80.39 L765.55 78.04 L767.53 75.68 L769.51 73.30 L771.50 70.91" stroke="#0000ff" stroke-dasharray="12.83 5.58" stroke-dashoffset="2.00"/>
<path d="M37.50 511.34 L38.46 510.23 L39.42 509.16 L40.38 508.12 L41.34 507.11 L42.31 506.12 L43.27 505.15 L44.24 504.21 L45.21 503.28 L46.19 502.37 L47.16 501.48 L48.14 500.61 L49.12 499.75 L50.10 498.90 L51.09 498.06 L52.07 497.23 L53.06 496.42 L54.05 495.61 L55.04 494.81 L56.04 494.02 L57.03 493.23 L58.03 492.46 L59.03 491.69 L60.04 490.93 L61.04 490.18 L62.05 489.44 L63.06 488.70 L64.07 487.98 L65.08 487.27 L66.09 486.57 L67.11 485.88 L68.13 485.20 L69.15 484.53 L70.18 483.87 L71.20 483.23 L72.23 482.60 L73.26 481.98 L74.29 481.37 L75.32 480.77 L76.36 480.18 L77.40 479.60 L78.43 479.03 L79.48 478.46 L80.52 477.89 L81.57 477.33 L82.61 476.78 L83.66 476.22 L84.72 475.67 L85.77 475.12 L86.83 474.56 L87.88 474.01 L88.95 473.45 L90.01 472.89 L91.07 472.34 L92.14 471.78 L93.21 471.21 L94.28 470.65 L95.35 470.09 L96.43 469.52 L97.50 468.96 L98.58 468.39 L99.66 467.82 L100.74 467.26 L101.83 466.69 L102.92 466.13 L104.01 465.56 L105.10 465.00 L106.19 464.43 L107.29 463.87 L108.38 463.31 L109.48 462.75 L110.58 462.19 L111.69 461.64 L112.79 461.08 L113.90 460.53 L115.01 459.98 L116.12 459.43 L117.24 458.88 L118.35 458.33 L119.47 457.79 L120.59 457.24 L121.71 456.70 L122.84 456.16 L123.96 455.62 L125.09 455.08 L126.22 454.55 L127.36 454.01 L128.49 453.48 L129.63 452.94 L130.77 452.41 L131.91 451.88 L133.05 451.35 L134.19 450.82 L135.34 450.30 L136.49 449.77 L137.64 449.24 L138.79 448.72 L139.95 448.19 L141.11 447.67 L142.27 447.15 L143.43 446.63 L144.59 446.11 L145.76 445.59 L146.92 445.07 L148.09 444.55 L149.27 444.03 L150.44 443.51 L151.62 443.00 L152.79 442.48 L153.97 441.97 L155.16 441.45 L156.34 440.94 L157.53 440.42 L158.71 439.91 L159.90 439.40 L161.10 438.88 L162.29 438.37 L163.49 437.86 L164.69 437.35 L165.89 436.84 L167.09 436.33 L168.29 435.82 L169.50 435.31 L170.71 434.80 L171.92 434.29 L173.13 433.78 L174.35 433.27 L175.57 432.76 L176.79 432.26 L178.01 431.75 L179.23 431.24 L180.46 430.73 L181.68 430.22 L182.91 429.72 L184.14 429.21 L185.38 428.70 L186.61 428.19 L187.85 427.68 L189.09 427.17 L190.33 426.66 L191.58 426.16 L192.82 425.65 L194.07 425.14 L195.32 424.63 L196.57 424.12 L197.83 423.61 L199.08 423.10 L200.34 422.58 L201.60 422.07 L202.87 421.56 L204.13 421.05 L205.40 420.53 L206.67 420.02 L207.94 419.51 L209.21 418.99 L210.48 418.48 L211.76 417.96 L213.04 417.44 L214.32 416.93 L215.60 416.41 L216.89 415.89 L218.18 415.37 L219.47 414.85 L220.76 414.33 L222.05 413.81 L223.35 413.29 L224.64 412.76 L225.94 412.24 L227.25 411.71 L228.55 411.19 L229.86 410.66 L231.16 410.13 L232.47 409.60 L233.79 409.07 L235.10 408.54 L236.42 408.01 L237.73 407.47 L239.05 406.94 L240.38 406.40 L241.70 405.87 L243.03 405.33 L244.36 404.79 L245.69 404.25 L247.02 403.70 L248.35 403.16 L249.69 402.62 L251.03 402.07 L252.37 401.52 L253.71 400.97 L255.06 400.42 L256.41 399.87 L257.75 399.32 L259.11 398.76 L260.46 398.21 L261.81 397.65 L263.17 397.09 L264.53 396.53 L265.89 395.97 L267.26 395.40 L268.62 394.84 L269.99 394.27 L271.36 393.70 L272.73 393.13 L274.11 392.56 L275.48 391.98 L276.86 391.41 L278.24 390.83 L279.62 390.25 L281.01 389.67 L282.39 389.08 L283.78 388.50 L285.17 387.91 L286.56 387.32 L287.96 386.73 L289.36 386.14 L290.75 385.54 L292.16 384.94 L293.56 384.34 L294.96 383.74 L296.37 383.14 L297.78 382.53 L299.19 381.92 L300.60 381.31 L302.02 380.70 L303.44 380.09 L304.86 379.47 L306.28 378.85 L307.70 378.23 L309.13 377.60 L310.55 376.98 L311.98 376.35 L313.41 375.72 L314.85 375.08 L316.28 374.45 L317.72 373.81 L319.16 373.17 L320.60 372.52 L322.05 371.88 L323.49 371.23 L324.94 370.58 L326.39 369.92 L327.85 369.27 L329.30 368.61 L330.76 367.94 L332.21 367.28 L333.68 366.61 L335.14 365.94 L336.60 365.27 L338.07 364.59 L339.54 363.91 L341.01 363.23 L342.48 362.54 L343.96 361.86 L345.43 361.16 L346.91 360.47 L348.40 359.77 L349.88 359.07 L351.36 358.37 L352.85 357.67 L354.34 356.96 L355.83 356.24 L357.33 355.53 L358.82 354.81 L360.32 354.09 L361.82 353.36 L363.32 352.64 L364.83 351.90 L366.33 351.17 L367.84 350.43 L369.35 349.69 L370.86 348.95 L372.38 348.20 L373.89 347.45 L375.41 346.69 L376.93 345.93 L378.45 345.17 L379.98 344.41 L381.50 343.64 L383.03 342.86 L384.56 342.09 L386.10 341.31 L387.63 340.53 L389.17 339.74 L390.71 338.95 L392.25 338.15 L393.79 337.36 L395.34 336.55 L396.88 335.75 L398.43 334.94 L399.99 334.13 L401.54 333.31 L403.09 332.49 L404.65 331.66 L406.21 330.83 L407.77 330.00 L409.34 329.16 L410.90 328.32 L412.47 327.48 L414.04 326.63 L415.61 325.78 L417.19 324.92 L418.76 324.06 L420.34 323.19 L421.92 322.32 L423.50 321.45 L425.09 320.57 L426.68 319.69 L428.26 318.80 L429.85 317.91 L431.45 317.01 L433.04 316.11 L434.64 315.21 L436.24 314.30 L437.84 313.38 L439.44 312.47 L441.05 311.54 L442.65 310.62 L444.26 309.68 L445.87 308.75 L447.49 307.81 L449.10 306.86 L450.72 305.91 L452.34 304.96 L453.96 304.00 L455.58 303.03 L457.21 302.06 L458.84 301.09 L460.47 300.11 L462.10 299.12 L463.73 298.13 L465.37 297.14 L467.01 296.14 L468.65 295.14 L470.29 294.13 L471.93 293.11 L473.58 292.09 L475.23 291.07 L476.88 290.04 L478.53 289.00 L480.19 287.96 L481.84 286.92 L483.50 285.87 L485.16 284.81 L486.83 283.75 L488.49 282.68 L490.16 281.61 L491.83 280.53 L493.50 279.45 L495.17 278.36 L496.85 277.26 L498.52 276.16 L500.20 275.06 L501.88 273.95 L503.57 272.83 L505.25 271.70 L506.94 270.58 L508.63 269.44 L510.32 268.30 L512.02 267.16 L513.71 266.01 L515.41 264.85 L517.11 263.69 L518.81 262.52 L520.52 261.35 L522.22 260.17 L523.93 258.98 L525.64 257.80 L527.35 256.60 L529.07 255.40 L530.78 254.20 L532.50 252.99 L534.22 251.77 L535.95 250.55 L537.67 249.33 L539.40 248.10 L541.13 246.86 L542.86 245.62 L544.59 244.38 L546.33 243.13 L548.06 241.87 L549.80 240.61 L551.54 239.35 L553.29 238.08 L555.03 236.81 L556.78 235.53 L558.53 234.24 L560.28 232.96 L562.03 231.67 L563.79 230.37 L565.55 229.07 L567.31 227.76 L569.07 226.45 L570.83 225.14 L572.60 223.82 L574.37 222.50 L576.14 221.17 L577.91 219.84 L579.68 218.51 L581.46 217.17 L583.24 215.83 L585.02 214.48 L586.80 213.13 L588.59 211.77 L590.37 210.42 L592.16 209.06 L593.95 207.69 L595.74 206.32 L597.54 204.95 L599.34 203.57 L601.14 202.19 L602.94 200.81 L604.74 199.42 L606.54 198.03 L608.35 196.64 L610.16 195.24 L611.97 193.84 L613.79 192.44 L615.60 191.03 L617.42 189.63 L619.24 188.21 L621.06 186.80 L622.88 185.38 L624.71 183.96 L626.54 182.54 L628.37 181.11 L630.20 179.69 L632.03 178.25 L633.87 176.82 L635.71 175.39 L637.55 173.95 L639.39 172.51 L641.24 171.06 L643.08 169.62 L644.93 168.17 L646.78 166.72 L648.63 165.27 L650.49 163.82 L652.35 162.36 L654.20 160.91 L656.07 159.45 L657.93 157.99 L659.79 156.53 L661.66 155.06 L663.53 153.60 L665.40 152.13 L667.27 150.66 L669.15 149.20 L671.03 147.73 L672.91 146.25 L674.79 144.78 L676.67 143.31 L678.56 141.83 L680.45 140.36 L682.34 138.88 L684.23 137.40 L686.12 135.93 L688.02 134.45 L689.92 132.97 L691.82 131.49 L693.72 130.01 L695.62 128.53 L697.53 127.05 L699.44 125.57 L701.35 124.09 L703.26 122.61 L705.17 121.13 L707.09 119.65 L709.01 118.17 L710.93 116.69 L712.85 115.21 L714.78 113.73 L716.70 112.25 L718.63 110.77 L720.56 109.29 L722.50 107.82 L724.43 106.34 L726.37 104.86 L728.31 103.39 L730.25 101.92 L732.19 100.45 L734.14 98.97 L736.09 97.51 L738.04 96.04 L739.99 94.57 L741.94 93.11 L743.90 91.64 L745.86 90.18 L747.82 88.72 L749.78 87.26 L751.74 85.81 L753.71 84.36 L755.68 82.90 L757.65 81.46 L759.62 80.01 L761.59 78.56 L763.57 77.12 L765.55 75.68 L767.53 74.25 L769.51 72.81 L771.50 71.38" stroke="#000000" stroke-dasharray="12.83 5.58" stroke-dashoffset="2.00"/>
<path d="M37.50 511.34 L38.46 510.27 L39.42 509.24 L40.38 508.23 L41.34 507.24 L42.31 506.28 L43.27 505.34 L44.24 504.42 L45.21 503.52 L46.19 502.63 L47.16 501.76 L48.14 500.90 L49.12 500.06 L50.10 499.22 L51.09 498.39 L52.07 497.57 L53.06 496.76 L54.05 495.96 L55.04 495.16 L56.04 494.37 L57.03 493.58 L58.03 492.81 L59.03 492.03 L60.04 491.27 L61.04 490.50 L62.05 489.75 L63.06 489.01 L64.07 488.27 L65.08 487.54 L66.09 486.82 L67.11 486.11 L68.13 485.41 L69.15 484.72 L70.18 484.04 L71.20 483.37 L72.23 482.71 L73.26 482.06 L74.29 481.41 L75.32 480.78 L76.36 480.16 L77.40 479.54 L78.43 478.92 L79.48 478.31 L80.52 477.71 L81.57 477.11 L82.61 476.50 L83.66 475.90 L84.72 475.30 L85.77 474.70 L86.83 474.09 L87.88 473.49 L88.95 472.88 L90.01 472.26 L91.07 471.65 L92.14 471.03 L93.21 470.41 L94.28 469.79 L95.35 469.16 L96.43 468.53 L97.50 467.90 L98.58 467.27 L99.66 466.64 L100.74 466.01 L101.83 465.37 L102.92 464.74 L104.01 464.10 L105.10 463.46 L106.19 462.83 L107.29 462.19 L108.38 461.56 L109.48 460.92 L110.58 460.29 L111.69 459.65 L112.79 459.02 L113.90 458.39 L115.01 457.76 L116.12 457.13 L117.24 456.50 L118.35 455.87 L119.47 455.24 L120.59 454.61 L121.71 453.99 L122.84 453.36 L123.96 452.74 L125.09 452.11 L126.22 451.49 L127.36 450.86 L128.49 450.24 L129.63 449.62 L130.77 449.00 L131.91 448.37 L133.05 447.75 L134.19 447.13 L135.34 446.51 L136.49 445.89 L137.64 445.26 L138.79 444.64 L139.95 444.02 L141.11 443.40 L142.27 442.78 L143.43 442.15 L144.59 441.53 L145.76 440.91 L146.92 440.29 L148.09 439.66 L149.27 439.04 L150.44 438.41 L151.62 437.79 L152.79 437.16 L153.97 436.54 L155.16 435.91 L156.34 435.29 L157.53 434.66 L158.71 434.03 L159.90 433.40 L161.10 432.77 L162.29 432.14 L163.49 431.51 L164.69 430.88 L165.89 430.24 L167.09 429.61 L168.29 428.98 L169.50 428.34 L170.71 427.70 L171.92 427.07 L173.13 426.43 L174.35 425.79 L175.57 425.15 L176.79 424.51 L178.01 423.87 L179.23 423.22 L180.46 422.58 L181.68 421.93 L182.91 421.28 L184.14 420.64 L185.38 419.99 L186.61 419.34 L187.85 418.68 L189.09 418.03 L190.33 417.38 L191.58 416.72 L192.82 416.06 L194.07 415.41 L195.32 414.75 L196.57 414.09 L197.83 413.42 L199.08 412.76 L200.34 412.09 L201.60 411.43 L202.87 410.76 L204.13 410.09 L205.40 409.42 L206.67 408.75 L207.94 408.07 L209.21 407.40 L210.48 406.72 L211.76 406.04 L213.04 405.36 L214.32 404.68 L215.60 403.99 L216.89 403.31 L218.18 402.62 L219.47 401.93 L220.76 401.24 L222.05 400.55 L223.35 399.86 L224.64 399.16 L225.94 398.46 L227.25 397.77 L228.55 397.07 L229.86 396.36 L231.16 395.66 L232.47 394.95 L233.79 394.25 L235.10 393.54 L236.42 392.82 L237.73 392.11 L239.05 391.40 L240.38 390.68 L241.70 389.96 L243.03 389.24 L244.36 388.52 L245.69 387.80 L247.02 387.07 L248.35 386.34 L249.69 385.61 L251.03 384.88 L252.37 384.15 L253.71 383.41 L255.06 382.67 L256.41 381.93 L257.75 381.19 L259.11 380.45 L260.46 379.71 L261.81 378.96 L263.17 378.21 L264.53 377.46 L265.89 376.71 L267.26 375.95 L268.62 375.19 L269.99 374.43 L271.36 373.67 L272.73 372.91 L274.11 372.14 L275.48 371.38 L276.86 370.61 L278.24 369.84 L279.62 369.06 L281.01 368.29 L282.39 367.51 L283.78 366.73 L285.17 365.95 L286.56 365.17 L287.96 364.38 L289.36 363.59 L290.75 362.80 L292.16 362.01 L293.56 361.22 L294.96 360.42 L296.37 359.63 L297.78 358.82 L299.19 358.02 L300.60 357.22 L302.02 356.41 L303.44 355.60 L304.86 354.79 L306.28 353.98 L307.70 353.16 L309.13 352.35 L310.55 351.53 L311.98 350.71 L313.41 349.88 L314.85 349.06 L316.28 348.23 L317.72 347.40 L319.16 346.57 L320.60 345.74 L322.05 344.90 L323.49 344.06 L324.94 343.22 L326.39 342.38 L327.85 341.53 L329.30 340.69 L330.76 339.84 L332.21 338.99 L333.68 338.13 L335.14 337.28 L336.60 336.42 L338.07 335.56 L339.54 334.70 L341.01 333.83 L342.48 332.97 L343.96 332.10 L345.43 331.23 L346.91 330.36 L348.40 329.48 L349.88 328.60 L351.36 327.73 L352.85 326.84 L354.34 325.96 L355.83 325.08 L357.33 324.19 L358.82 323.30 L360.32 322.41 L361.82 321.51 L363.32 320.62 L364.83 319.72 L366.33 318.82 L367.84 317.92 L369.35 317.01 L370.86 316.10 L372.38 315.20 L373.89 314.28 L375.41 313.37 L376.93 312.46 L378.45 311.54 L379.98 310.62 L381.50 309.70 L383.03 308.77 L384.56 307.85 L386.10 306.92 L387.63 305.99 L389.17 305.06 L390.71 304.13 L392.25 303.19 L393.79 302.25 L395.34 301.31 L396.88 300.37 L398.43 299.43 L399.99 298.48 L401.54 297.53 L403.09 296.58 L404.65 295.63 L406.21 294.67 L407.77 293.72 L409.34 292.76 L410.90 291.80 L412.47 290.84 L414.04 289.87 L415.61 288.90 L417.19 287.94 L418.76 286.97 L420.34 285.99 L421.92 285.02 L423.50 284.04 L425.09 283.06 L426.68 282.08 L428.26 281.10 L429.85 280.12 L431.45 279.13 L433.04 278.14 L434.64 277.15 L436.24 276.16 L437.84 275.17 L439.44 274.17 L441.05 273.17 L442.65 272.17 L444.26 271.17 L445.87 270.17 L447.49 269.16 L449.10 268.16 L450.72 267.15 L452.34 266.14 L453.96 265.13 L455.58 264.11 L457.21 263.10 L458.84 262.08 L460.47 261.06 L462.10 260.04 L463.73 259.01 L465.37 257.99 L467.01 256.96 L468.65 255.93 L470.29 254.90 L471.93 253.87 L473.58 252.84 L475.23 251.80 L476.88 250.76 L478.53 249.73 L480.19 248.69 L481.84 247.64 L483.50 246.60 L485.16 245.55 L486.83 244.51 L488.49 243.46 L490.16 242.41 L491.83 241.36 L493.50 240.30 L495.17 239.25 L496.85 238.19 L498.52 237.13 L500.20 236.07 L501.88 235.01 L503.57 233.95 L505.25 232.89 L506.94 231.82 L508.63 230.75 L510.32 229.68 L512.02 228.61 L513.71 227.54 L515.41 226.47 L517.11 225.40 L518.81 224.32 L520.52 223.24 L522.22 222.16 L523.93 221.08 L525.64 220.00 L527.35 218.92 L529.07 217.84 L530.78 216.75 L532.50 215.67 L534.22 214.58 L535.95 213.49 L537.67 212.40 L539.40 211.31 L541.13 210.21 L542.86 209.12 L544.59 208.03 L546.33 206.93 L548.06 205.83 L549.80 204.73 L551.54 203.63 L553.29 202.53 L555.03 201.43 L556.78 200.33 L558.53 199.22 L560.28 198.12 L562.03 197.01 L563.79 195.91 L565.55 194.80 L567.31 193.69 L569.07 192.58 L570.83 191.47 L572.60 190.35 L574.37 189.24 L576.14 188.13 L577.91 187.01 L579.68 185.90 L581.46 184.78 L583.24 183.66 L585.02 182.55 L586.80 181.43 L588.59 180.31 L590.37 179.19 L592.16 178.07 L593.95 176.95 L595.74 175.82 L597.54 174.70 L599.34 173.58 L601.14 172.45 L602.94 171.33 L604.74 170.20 L606.54 169.08 L608.35 167.95 L610.16 166.82 L611.97 165.69 L613.79 164.57 L615.60 163.44 L617.42 162.31 L619.24 161.18 L621.06 160.05 L622.88 158.92 L624.71 157.79 L626.54 156.66 L628.37 155.53 L630.20 154.39 L632.03 153.26 L633.87 152.13 L635.71 151.00 L637.55 149.86 L639.39 148.73 L641.24 147.60 L643.08 146.47 L644.93 145.33 L646.78 144.20 L648.63 143.07 L650.49 141.93 L652.35 140.80 L654.20 139.67 L656.07 138.53 L657.93 137.40 L659.79 136.26 L661.66 135.13 L663.53 134.00 L665.40 132.87 L667.27 131.73 L669.15 130.60 L671.03 129.47 L672.91 128.34 L674.79 127.20 L676.67 126.07 L678.56 124.94 L680.45 123.81 L682.34 122.68 L684.23 121.55 L686.12 120.42 L688.02 119.29 L689.92 118.16 L691.82 117.03 L693.72 115.90 L695.62 114.78 L697.53 113.65 L699.44 112.52 L701.35 111.40 L703.26 110.27 L705.17 109.15 L707.09 108.03 L709.01 106.90 L710.93 105.78 L712.85 104.66 L714.78 103.54 L716.70 102.42 L718.63 101.30 L720.56 100.19 L722.50 99.07 L724.43 97.95 L726.37 96.84 L728.31 95.72 L730.25 94.61 L732.19 93.50 L734.14 92.39 L736.09 91.28 L738.04 90.17 L739.99 89.07 L741.94 87.96 L743.90 86.86 L745.86 85.75 L747.82 84.65 L749.78 83.55 L751.74 82.45 L753.71 81.36 L755.68 80.26 L757.65 79.17 L759.62 78.08 L761.59 76.98 L763.57 75.89 L765.55 74.81 L767.53 73.72 L769.51 72.64 L771.50 71.55" stroke="#ff8000" stroke-dasharray="12.83 5.58" stroke-dashoffset="2.00"/>
<path d="M37.50 511.34 L38.46 510.21 L39.42 509.11 L40.38 508.03 L41.34 506.96 L42.31 505.92 L43.27 504.88 L44.24 503.87 L45.21 502.86 L46.19 501.86 L47.16 500.87 L48.14 499.89 L49.12 498.91 L50.10 497.94 L51.09 496.98 L52.07 496.01 L53.06 495.05 L54.05 494.09 L55.04 493.13 L56.04 492.17 L57.03 491.22 L58.03 490.26 L59.03 489.31 L60.04 488.36 L61.04 487.41 L62.05 486.46 L63.06 485.52 L64.07 484.58 L65.08 483.65 L66.09 482.72 L67.11 481.80 L68.13 480.88 L69.15 479.98 L70.18 479.07 L71.20 478.18 L72.23 477.30 L73.26 476.42 L74.29 475.54 L75.32 474.68 L76.36 473.82 L77.40 472.96 L78.43 472.11 L79.48 471.26 L80.52 470.42 L81.57 469.57 L82.61 468.73 L83.66 467.88 L84.72 467.04 L85.77 466.19 L86.83 465.34 L87.88 464.49 L88.95 463.63 L90.01 462.78 L91.07 461.92 L92.14 461.06 L93.21 460.20 L94.28 459.33 L95.35 458.47 L96.43 457.60 L97.50 456.74 L98.58 455.87 L99.66 455.01 L100.74 454.15 L101.83 453.29 L102.92 452.43 L104.01 451.57 L105.10 450.71 L106.19 449.86 L107.29 449.00 L108.38 448.15 L109.48 447.30 L110.58 446.46 L111.69 445.61 L112.79 444.77 L113.90 443.92 L115.01 443.08 L116.12 442.24 L117.24 441.41 L118.35 440.57 L119.47 439.73 L120.59 438.90 L121.71 438.07 L122.84 437.24 L123.96 436.41 L125.09 435.58 L126.22 434.75 L127.36 433.93 L128.49 433.10 L129.63 432.28 L130.77 431.45 L131.91 430.63 L133.05 429.81 L134.19 428.99 L135.34 428.17 L136.49 427.35 L137.64 426.53 L138.79 425.72 L139.95 424.90 L141.11 424.08 L142.27 423.27 L143.43 422.45 L144.59 421.64 L145.76 420.82 L146.92 420.01 L148.09 419.19 L149.27 418.38 L150.44 417.57 L151.62 416.75 L152.79 415.94 L153.97 415.13 L155.16 414.32 L156.34 413.50 L157.53 412.69 L158.71 411.88 L159.90 411.07 L161.10 410.26 L162.29 409.44 L163.49 408.63 L164.69 407.82 L165.89 407.01 L167.09 406.20 L168.29 405.39 L169.50 404.57 L170.71 403.76 L171.92 402.95 L173.13 402.14 L174.35 401.32 L175.57 400.51 L176.79 399.70 L178.01 398.88 L179.23 398.07 L180.46 397.26 L181.68 396.44 L182.91 395.63 L184.14 394.81 L185.38 394.00 L186.61 393.18 L187.85 392.37 L189.09 391.55 L190.33 390.73 L191.58 389.92 L192.82 389.10 L194.07 388.28 L195.32 387.46 L196.57 386.64 L197.83 385.82 L199.08 385.00 L200.34 384.18 L201.60 383.36 L202.87 382.54 L204.13 381.71 L205.40 380.89 L206.67 380.07 L207.94 379.24 L209.21 378.42 L210.48 377.59 L211.76 376.77 L213.04 375.94 L214.32 375.11 L215.60 374.28 L216.89 373.45 L218.18 372.62 L219.47 371.79 L220.76 370.96 L222.05 370.13 L223.35 369.30 L224.64 368.47 L225.94 367.63 L227.25 366.80 L228.55 365.96 L229.86 365.13 L231.16 364.29 L232.47 363.45 L233.79 362.61 L235.10 361.77 L236.42 360.93 L237.73 360.09 L239.05 359.25 L240.38 358.41 L241.70 357.57 L243.03 356.72 L244.36 355.88 L245.69 355.03 L247.02 354.19 L248.35 353.34 L249.69 352.50 L251.03 351.65 L252.37 350.80 L253.71 349.95 L255.06 349.10 L256.41 348.25 L257.75 347.40 L259.11 346.54 L260.46 345.69 L261.81 344.84 L263.17 343.98 L264.53 343.12 L265.89 342.27 L267.26 341.41 L268.62 340.55 L269.99 339.70 L271.36 338.84 L272.73 337.98 L274.11 337.11 L275.48 336.25 L276.86 335.39 L278.24 334.53 L279.62 333.66 L281.01 332.80 L282.39 331.93 L283.78 331.07 L285.17 330.20 L286.56 329.34 L287.96 328.47 L289.36 327.60 L290.75 326.73 L292.16 325.86 L293.56 324.99 L294.96 324.12 L296.37 323.25 L297.78 322.37 L299.19 321.50 L300.60 320.63 L302.02 319.75 L303.44 318.88 L304.86 318.00 L306.28 317.12 L307.70 316.25 L309.13 315.37 L310.55 314.49 L311.98 313.61 L313.41 312.73 L314.85 311.85 L316.28 310.97 L317.72 310.09 L319.16 309.21 L320.60 308.33 L322.05 307.44 L323.49 306.56 L324.94 305.68 L326.39 304.79 L327.85 303.91 L329.30 303.02 L330.76 302.13 L332.21 301.25 L333.68 300.36 L335.14 299.47 L336.60 298.59 L338.07 297.70 L339.54 296.81 L341.01 295.92 L342.48 295.03 L343.96 294.14 L345.43 293.25 L346.91 292.36 L348.40 291.47 L349.88 290.58 L351.36 289.69 L352.85 288.79 L354.34 287.90 L355.83 287.01 L357.33 286.12 L358.82 285.22 L360.32 284.33 L361.82 283.44 L363.32 282.54 L364.83 281.65 L366.33 280.75 L367.84 279.86 L369.35 278.96 L370.86 278.07 L372.38 277.17 L373.89 276.28 L375.41 275.38 L376.93 274.49 L378.45 273.59 L379.98 272.70 L381.50 271.80 L383.03 270.90 L384.56 270.01 L386.10 269.11 L387.63 268.21 L389.17 267.32 L390.71 266.42 L392.25 265.53 L393.79 264.63 L395.34 263.73 L396.88 262.84 L398.43 261.94 L399.99 261.05 L401.54 260.15 L403.09 259.25 L404.65 258.36 L406.21 257.46 L407.77 256.57 L409.34 255.67 L410.90 254.78 L412.47 253.88 L414.04 252.99 L415.61 252.09 L417.19 251.20 L418.76 250.31 L420.34 249.41 L421.92 248.52 L423.50 247.62 L425.09 246.73 L426.68 245.84 L428.26 244.94 L429.85 244.05 L431.45 243.16 L433.04 242.26 L434.64 241.37 L436.24 240.48 L437.84 239.58 L439.44 238.69 L441.05 237.80 L442.65 236.91 L444.26 236.01 L445.87 235.12 L447.49 234.23 L449.10 233.34 L450.72 232.45 L452.34 231.55 L453.96 230.66 L455.58 229.77 L457.21 228.88 L458.84 227.99 L460.47 227.09 L462.10 226.20 L463.73 225.31 L465.37 224.42 L467.01 223.53 L468.65 222.64 L470.29 221.74 L471.93 220.85 L473.58 219.96 L475.23 219.07 L476.88 218.18 L478.53 217.29 L480.19 216.40 L481.84 215.51 L483.50 214.61 L485.16 213.72 L486.83 212.83 L488.49 211.94 L490.16 211.05 L491.83 210.16 L493.50 209.27 L495.17 208.38 L496.85 207.49 L498.52 206.60 L500.20 205.70 L501.88 204.81 L503.57 203.92 L505.25 203.03 L506.94 202.14 L508.63 201.25 L510.32 200.36 L512.02 199.47 L513.71 198.58 L515.41 197.68 L517.11 196.79 L518.81 195.90 L520.52 195.01 L522.22 194.12 L523.93 193.23 L525.64 192.34 L527.35 191.44 L529.07 190.55 L530.78 189.66 L532.50 188.77 L534.22 187.88 L535.95 186.99 L537.67 186.09 L539.40 185.20 L541.13 184.31 L542.86 183.42 L544.59 182.52 L546.33 181.63 L548.06 180.74 L549.80 179.85 L551.54 178.95 L553.29 178.06 L555.03 177.17 L556.78 176.28 L558.53 175.38 L560.28 174.49 L562.03 173.60 L563.79 172.70 L565.55 171.81 L567.31 170.91 L569.07 170.02 L570.83 169.13 L572.60 168.23 L574.37 167.34 L576.14 166.44 L577.91 165.55 L579.68 164.65 L581.46 163.76 L583.24 162.86 L585.02 161.97 L586.80 161.07 L588.59 160.18 L590.37 159.28 L592.16 158.38 L593.95 157.49 L595.74 156.59 L597.54 155.69 L599.34 154.80 L601.14 153.90 L602.94 153.00 L604.74 152.10 L606.54 151.21 L608.35 150.31 L610.16 149.41 L611.97 148.51 L613.79 147.61 L615.60 146.71 L617.42 145.81 L619.24 144.91 L621.06 144.01 L622.88 143.11 L624.71 142.21 L626.54 141.31 L628.37 140.41 L630.20 139.51 L632.03 138.61 L633.87 137.71 L635.71 136.80 L637.55 135.90 L639.39 135.00 L641.24 134.09 L643.08 133.19 L644.93 132.29 L646.78 131.38 L648.63 130.48 L650.49 129.57 L652.35 128.67 L654.20 127.76 L656.07 126.86 L657.93 125.95 L659.79 125.04 L661.66 124.14 L663.53 123.23 L665.40 122.32 L667.27 121.41 L669.15 120.51 L671.03 119.60 L672.91 118.69 L674.79 117.78 L676.67 116.87 L678.56 115.96 L680.45 115.04 L682.34 114.13 L684.23 113.22 L686.12 112.31 L688.02 111.40 L689.92 110.48 L691.82 109.57 L693.72 108.65 L695.62 107.74 L697.53 106.82 L699.44 105.91 L701.35 104.99 L703.26 104.08 L705.17 103.16 L707.09 102.24 L709.01 101.32 L710.93 100.40 L712.85 99.48 L714.78 98.56 L716.70 97.64 L718.63 96.72 L720.56 95.80 L722.50 94.88 L724.43 93.96 L726.37 93.03 L728.31 92.11 L730.25 91.19 L732.19 90.26 L734.14 89.34 L736.09 88.41 L738.04 87.48 L739.99 86.55 L741.94 85.63 L743.90 84.70 L745.86 83.77 L747.82 82.84 L749.78 81.91 L751.74 80.98 L753.71 80.04 L755.68 79.11 L757.65 78.18 L759.62 77.24 L761.59 76.31 L763.57 75.37 L765.55 74.44 L767.53 73.50 L769.51 72.56 L771.50 71.63" stroke="#800080" stroke-dasharray="12.83 5.58" stroke-dashoffset="2.00"/>
<path d="M37.50 511.35 L38.46 509.63 L39.42 507.94 L40.38 506.29 L41.34 504.67 L42.31 503.09 L43.27 501.53 L44.24 500.01 L45.21 498.50 L46.19 497.02 L47.16 495.57 L48.14 494.13 L49.12 492.72 L50.10 491.32 L51.09 489.94 L52.07 488.58 L53.06 487.24 L54.05 485.91 L55.04 484.60 L56.04 483.30 L57.03 482.01 L58.03 480.74 L59.03 479.48 L60.04 478.23 L61.04 477.00 L62.05 475.77 L63.06 474.56 L64.07 473.35 L65.08 472.16 L66.09 470.97 L67.11 469.80 L68.13 468.63 L69.15 467.47 L70.18 466.32 L71.20 465.18 L72.23 464.04 L73.26 462.91 L74.29 461.79 L75.32 460.68 L76.36 459.57 L77.40 458.47 L78.43 457.38 L79.48 456.29 L80.52 455.21 L81.57 454.13 L82.61 453.06 L83.66 452.00 L84.72 450.94 L85.77 449.89 L86.83 448.84 L87.88 447.79 L88.95 446.76 L90.01 445.72 L91.07 444.69 L92.14 443.67 L93.21 442.64 L94.28 441.63 L95.35 440.61 L96.43 439.61 L97.50 438.60 L98.58 437.60 L99.66 436.60 L100.74 435.61 L101.83 434.62 L102.92 433.63 L104.01 432.65 L105.10 431.67 L106.19 430.69 L107.29 429.72 L108.38 428.75 L109.48 427.78 L110.58 426.82 L111.69 425.86 L112.79 424.90 L113.90 423.94 L115.01 422.99 L116.12 422.04 L117.24 421.09 L118.35 420.15 L119.47 419.20 L120.59 418.26 L121.71 417.32 L122.84 416.39 L123.96 415.46 L125.09 414.53 L126.22 413.60 L127.36 412.67 L128.49 411.75 L129.63 410.82 L130.77 409.90 L131.91 408.98 L133.05 408.07 L134.19 407.15 L135.34 406.24 L136.49 405.33 L137.64 404.42 L138.79 403.52 L139.95 402.61 L141.11 401.71 L142.27 400.80 L143.43 399.90 L144.59 399.01 L145.76 398.11 L146.92 397.21 L148.09 396.32 L149.27 395.43 L150.44 394.54 L151.62 393.65 L152.79 392.76 L153.97 391.87 L155.16 390.99 L156.34 390.10 L157.53 389.22 L158.71 388.34 L159.90 387.46 L161.10 386.58 L162.29 385.71 L163.49 384.83 L164.69 383.96 L165.89 383.08 L167.09 382.21 L168.29 381.34 L169.50 380.47 L170.71 379.60 L171.92 378.73 L173.13 377.86 L174.35 377.00 L175.57 376.13 L176.79 375.27 L178.01 374.41 L179.23 373.55 L180.46 372.69 L181.68 371.83 L182.91 370.97 L184.14 370.11 L185.38 369.25 L186.61 368.40 L187.85 367.54 L189.09 366.69 L190.33 365.83 L191.58 364.98 L192.82 364.13 L194.07 363.28 L195.32 362.43 L196.57 361.58 L197.83 360.73 L199.08 359.88 L200.34 359.03 L201.60 358.19 L202.87 357.34 L204.13 356.50 L205.40 355.65 L206.67 354.81 L207.94 353.96 L209.21 353.12 L210.48 352.28 L211.76 351.44 L213.04 350.60 L214.32 349.76 L215.60 348.92 L216.89 348.08 L218.18 347.24 L219.47 346.41 L220.76 345.57 L222.05 344.73 L223.35 343.90 L224.64 343.06 L225.94 342.23 L227.25 341.39 L228.55 340.56 L229.86 339.73 L231.16 338.89 L232.47 338.06 L233.79 337.23 L235.10 336.40 L236.42 335.57 L237.73 334.74 L239.05 333.91 L240.38 333.08 L241.70 332.25 L243.03 331.42 L244.36 330.59 L245.69 329.77 L247.02 328.94 L248.35 328.11 L249.69 327.28 L251.03 326.46 L252.37 325.63 L253.71 324.81 L255.06 323.98 L256.41 323.16 L257.75 322.33 L259.11 321.51 L260.46 320.69 L261.81 319.86 L263.17 319.04 L264.53 318.22 L265.89 317.40 L267.26 316.58 L268.62 315.75 L269.99 314.93 L271.36 314.11 L272.73 313.29 L274.11 312.47 L275.48 311.65 L276.86 310.83 L278.24 310.01 L279.62 309.19 L281.01 308.37 L282.39 307.55 L283.78 306.74 L285.17 305.92 L286.56 305.10 L287.96 304.28 L289.36 303.46 L290.75 302.65 L292.16 301.83 L293.56 301.01 L294.96 300.20 L296.37 299.38 L297.78 298.57 L299.19 297.75 L300.60 296.93 L302.02 296.12 L303.44 295.30 L304.86 294.49 L306.28 293.67 L307.70 292.86 L309.13 292.04 L310.55 291.23 L311.98 290.41 L313.41 289.60 L314.85 288.79 L316.28 287.97 L317.72 287.16 L319.16 286.35 L320.60 285.53 L322.05 284.72 L323.49 283.91 L324.94 283.09 L326.39 282.28 L327.85 281.47 L329.30 280.66 L330.76 279.84 L332.21 279.03 L333.68 278.22 L335.14 277.41 L336.60 276.60 L338.07 275.78 L339.54 274.97 L341.01 274.16 L342.48 273.35 L343.96 272.54 L345.43 271.73 L346.91 270.92 L348.40 270.11 L349.88 269.29 L351.36 268.48 L352.85 267.67 L354.34 266.86 L355.83 266.05 L357.33 265.24 L358.82 264.43 L360.32 263.62 L361.82 262.81 L363.32 262.00 L364.83 261.19 L366.33 260.38 L367.84 259.57 L369.35 258.76 L370.86 257.95 L372.38 257.14 L373.89 256.33 L375.41 255.52 L376.93 254.71 L378.45 253.90 L379.98 253.09 L381.50 252.28 L383.03 251.47 L384.56 250.66 L386.10 249.85 L387.63 249.04 L389.17 248.24 L390.71 247.43 L392.25 246.62 L393.79 245.81 L395.34 245.00 L396.88 244.19 L398.43 243.38 L399.99 242.57 L401.54 241.76 L403.09 240.95 L404.65 240.14 L406.21 239.33 L407.77 238.53 L409.34 237.72 L410.90 236.91 L412.47 236.10 L414.04 235.29 L415.61 234.48 L417.19 233.67 L418.76 232.86 L420.34 232.05 L421.92 231.24 L423.50 230.44 L425.09 229.63 L426.68 228.82 L428.26 228.01 L429.85 227.20 L431.45 226.39 L433.04 225.58 L434.64 224.77 L436.24 223.96 L437.84 223.15 L439.44 222.34 L441.05 221.54 L442.65 220.73 L444.26 219.92 L445.87 219.11 L447.49 218.30 L449.10 217.49 L450.72 216.68 L452.34 215.87 L453.96 215.06 L455.58 214.25 L457.21 213.44 L458.84 212.63 L460.47 211.82 L462.10 211.02 L463.73 210.21 L465.37 209.40 L467.01 208.59 L468.65 207.78 L470.29 206.97 L471.93 206.16 L473.58 205.35 L475.23 204.54 L476.88 203.73 L478.53 202.92 L480.19 202.11 L481.84 201.30 L483.50 200.49 L485.16 199.68 L486.83 198.87 L488.49 198.06 L490.16 197.25 L491.83 196.44 L493.50 195.63 L495.17 194.82 L496.85 194.01 L498.52 193.20 L500.20 192.39 L501.88 191.58 L503.57 190.77 L505.25 189.96 L506.94 189.15 L508.63 188.34 L510.32 187.52 L512.02 186.71 L513.71 185.90 L515.41 185.09 L517.11 184.28 L518.81 183.47 L520.52 182.66 L522.22 181.85 L523.93 181.04 L525.64 180.23 L527.35 179.41 L529.07 178.60 L530.78 177.79 L532.50 176.98 L534.22 176.17 L535.95 175.36 L537.67 174.55 L539.40 173.73 L541.13 172.92 L542.86 172.11 L544.59 171.30 L546.33 170.49 L548.06 169.68 L549.80 168.86 L551.54 168.05 L553.29 167.24 L555.03 166.43 L556.78 165.61 L558.53 164.80 L560.28 163.99 L562.03 163.18 L563.79 162.36 L565.55 161.55 L567.31 160.74 L569.07 159.93 L570.83 159.11 L572.60 158.30 L574.37 157.49 L576.14 156.67 L577.91 155.86 L579.68 155.05 L581.46 154.23 L583.24 153.42 L585.02 152.61 L586.80 151.79 L588.59 150.98 L590.37 150.17 L592.16 149.35 L593.95 148.54 L595.74 147.73 L597.54 146.91 L599.34 146.10 L601.14 145.28 L602.94 144.47 L604.74 143.65 L606.54 142.84 L608.35 142.03 L610.16 141.21 L611.97 140.40 L613.79 139.58 L615.60 138.77 L617.42 137.95 L619.24 137.14 L621.06 136.32 L622.88 135.51 L624.71 134.69 L626.54 133.88 L628.37 133.06 L630.20 132.25 L632.03 131.43 L633.87 130.62 L635.71 129.80 L637.55 128.99 L639.39 128.17 L641.24 127.35 L643.08 126.54 L644.93 125.72 L646.78 124.91 L648.63 124.09 L650.49 123.27 L652.35 122.46 L654.20 121.64 L656.07 120.83 L657.93 120.01 L659.79 119.19 L661.66 118.38 L663.53 117.56 L665.40 116.74 L667.27 115.93 L669.15 115.11 L671.03 114.29 L672.91 113.47 L674.79 112.66 L676.67 111.84 L678.56 111.02 L680.45 110.21 L682.34 109.39 L684.23 108.57 L686.12 107.75 L688.02 106.94 L689.92 106.12 L691.82 105.30 L693.72 104.48 L695.62 103.66 L697.53 102.85 L699.44 102.03 L701.35 101.21 L703.26 100.39 L705.17 99.57 L707.09 98.76 L709.01 97.94 L710.93 97.12 L712.85 96.30 L714.78 95.48 L716.70 94.66 L718.63 93.84 L720.56 93.02 L722.50 92.21 L724.43 91.39 L726.37 90.57 L728.31 89.75 L730.25 88.93 L732.19 88.11 L734.14 87.29 L736.09 86.47 L738.04 85.65 L739.99 84.83 L741.94 84.01 L743.90 83.19 L745.86 82.37 L747.82 81.55 L749.78 80.73 L751.74 79.91 L753.71 79.09 L755.68 78.27 L757.65 77.45 L759.62 76.63 L761.59 75.81 L763.57 74.99 L765.55 74.17 L767.53 73.35 L769.51 72.53 L771.50 71.71" stroke="#5e81b5"/>
</g>
<g stroke="#000" fill="none">
<path d="M22.3 511.45 H785.8" stroke-width="2.7"/>
<path d="M37.60 49.5 V520.8" stroke-width="2.6"/>
<path d="M61.93 511.35 v-3.60 M86.37 511.35 v-3.60 M110.80 511.35 v-3.60 M135.24 511.35 v-3.60 M159.67 511.35 v-6.20 M184.10 511.35 v-3.60 M208.54 511.35 v-3.60 M232.97 511.35 v-3.60 M257.41 511.35 v-3.60 M281.84 511.35 v-6.20 M306.27 511.35 v-3.60 M330.71 511.35 v-3.60 M355.14 511.35 v-3.60 M379.58 511.35 v-3.60 M404.01 511.35 v-6.20 M428.44 511.35 v-3.60 M452.88 511.35 v-3.60 M477.31 511.35 v-3.60 M501.75 511.35 v-3.60 M526.18 511.35 v-6.20 M550.61 511.35 v-3.60 M575.05 511.35 v-3.60 M599.48 511.35 v-3.60 M623.92 511.35 v-3.60 M648.35 511.35 v-6.20 M672.78 511.35 v-3.60 M697.22 511.35 v-3.60 M721.65 511.35 v-3.60 M746.09 511.35 v-3.60 M770.52 511.35 v-6.20 M37.50 496.62 h3.60 M37.50 481.84 h3.60 M37.50 467.06 h3.60 M37.50 452.28 h6.20 M37.50 437.50 h3.60 M37.50 422.72 h3.60 M37.50 407.94 h3.60 M37.50 393.16 h6.20 M37.50 378.38 h3.60 M37.50 363.60 h3.60 M37.50 348.82 h3.60 M37.50 334.04 h6.20 M37.50 319.26 h3.60 M37.50 304.48 h3.60 M37.50 289.70 h3.60 M37.50 274.92 h6.20 M37.50 260.14 h3.60 M37.50 245.36 h3.60 M37.50 230.58 h3.60 M37.50 215.80 h6.20 M37.50 201.02 h3.60 M37.50 186.24 h3.60 M37.50 171.46 h3.60 M37.50 156.68 h6.20 M37.50 141.90 h3.60 M37.50 127.12 h3.60 M37.50 112.34 h3.60 M37.50 97.56 h6.20 M37.50 82.78 h3.60 M37.50 68.00 h3.60 M37.50 53.22 h3.60" stroke-width="1.35" stroke="#1c1c1c"/>
</g>
<rect x="39.0" y="510.75" width="4.8" height="1.6" fill="#5c5c5c"/>
<g style="will-change:transform">
<text x="159.67" y="543.7" font-size="27.5" text-anchor="middle">10</text>
<text x="281.84" y="543.7" font-size="27.5" text-anchor="middle">20</text>
<text x="404.01" y="543.7" font-size="27.5" text-anchor="middle">30</text>
<text x="526.18" y="543.7" font-size="27.5" text-anchor="middle">40</text>
<text x="648.35" y="543.7" font-size="27.5" text-anchor="middle">50</text>
<text x="770.52" y="543.7" font-size="27.5" text-anchor="middle">60</text>
<text x="31.2" y="461.98" font-size="27.5" text-anchor="end">2</text>
<text x="31.2" y="402.86" font-size="27.5" text-anchor="end">4</text>
<text x="31.2" y="343.74" font-size="27.5" text-anchor="end">6</text>
<text x="31.2" y="284.62" font-size="27.5" text-anchor="end">8</text>
<text x="31.2" y="225.50" font-size="27.5" text-anchor="end">10</text>
<text x="31.2" y="166.38" font-size="27.5" text-anchor="end">12</text>
<text x="31.2" y="107.26" font-size="27.5" text-anchor="end">14</text>
<text x="10.5" y="29.4" font-size="27.5"><tspan font-style="italic">γ</tspan>(<tspan font-style="italic" dx="1">r</tspan><tspan dy="-13" dx="1.5" font-size="20">2</tspan><tspan dy="13" dx="2.5">)</tspan></text>
<text x="804.3" y="522" font-size="27.5"><tspan font-style="italic">r</tspan><tspan dy="-13" dx="1" font-size="20">2</tspan></text>
</g>
</svg></body></html>
